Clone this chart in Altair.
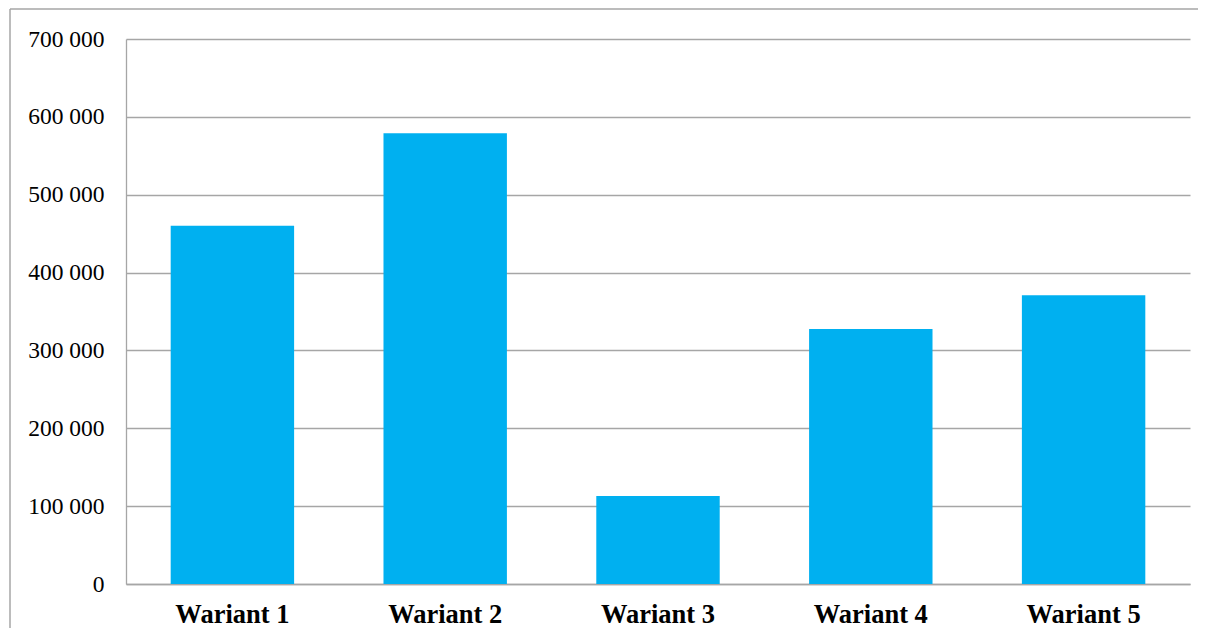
import altair as alt
import pandas as pd

categories = ["Wariant 1", "Wariant 2", "Wariant 3", "Wariant 4", "Wariant 5"]
values = [460000, 579000, 113000, 327500, 371000]
y_ticks = [0, 100000, 200000, 300000, 400000, 500000, 600000, 700000]

df = pd.DataFrame({"wariant": categories, "wartosc": values})

GRAY = "#A6A6A6"

bars = alt.Chart(df).mark_bar(color="#00B0F0").encode(
    x=alt.X("wariant:N", sort=categories, title=None,
            scale=alt.Scale(paddingInner=0.42, paddingOuter=0.21),
            axis=alt.Axis(labelAngle=0, labelFont="Liberation Serif", labelFontSize=26.5,
                          labelFontWeight="bold", labelColor="black", labelPadding=17,
                          ticks=False, domain=True, domainColor=GRAY, domainWidth=1.3,
                          grid=False)),
    y=alt.Y("wartosc:Q", title=None,
            scale=alt.Scale(domain=[0, 700000], nice=False),
            axis=alt.Axis(values=y_ticks, labelFont="Liberation Serif", labelFontSize=23.5,
                          labelColor="black", labelPadding=22, ticks=False,
                          domain=True, domainColor=GRAY, domainWidth=1.3,
                          grid=True, gridColor=GRAY, gridWidth=1.3,
                          labelExpr="replace(format(datum.value, ','), ',', ' ')")),
)

base_one = alt.Chart(df).transform_filter(alt.datum.wariant == "Wariant 1")
frame_top = base_one.mark_rule(color=GRAY, strokeWidth=1.5, clip=False).encode(
    x=alt.value(-116), x2=alt.value(1200), y=alt.value(-30)
)
frame_left = base_one.mark_rule(color=GRAY, strokeWidth=1.5, clip=False).encode(
    x=alt.value(-116), y=alt.value(-30), y2=alt.value(700)
)

chart = alt.layer(frame_top, frame_left, bars).properties(
    width=1064, height=545,
    autosize=alt.AutoSizeParams(type="none"),
    padding={"left": 118, "top": 31, "right": 8, "bottom": 44},
    view=alt.ViewBackground(stroke="transparent", strokeWidth=0),
).configure_view(strokeWidth=0, stroke="transparent").configure(background="white")

chart.save("out.html", embed_options={"renderer": "svg", "actions": False})
